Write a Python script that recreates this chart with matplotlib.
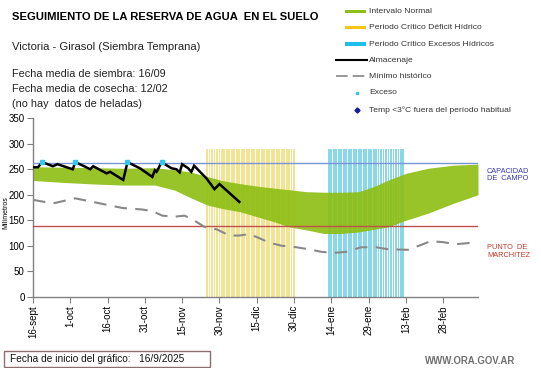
import numpy as np
import matplotlib
matplotlib.use("Agg")
import matplotlib.pyplot as plt
from matplotlib.lines import Line2D
from matplotlib.patches import Rectangle

plt.rcParams['font.family'] = ['Liberation Sans', 'DejaVu Sans']

# ---------------- data (x = days since 16-sept-2025) ----------------
tick_days = [0, 15, 30, 45, 60, 75, 90, 105, 120, 135, 150, 165]
tick_labels = ['16-sept', '1-oct', '16-oct', '31-oct', '15-nov', '30-nov',
               '15-dic', '30-dic', '14-ene', '29-ene', '13-feb', '28-feb']

band_days = [0, 13, 25, 36, 49, 57, 63, 70, 76, 83, 90, 97, 103, 110, 117,
             124, 131, 137, 143, 150, 159, 169, 179]
band_upper = [255, 254, 253, 252, 253, 249, 245, 236, 228, 222, 217, 213, 210,
              206, 205, 205, 206, 216, 229, 242, 252, 258, 260]
band_lower = [228, 224, 221, 219, 219, 209, 195, 180, 173, 167, 157, 147, 137,
              131, 124, 124, 127, 132, 137, 150, 164, 183, 200]

min_days = [0, 8, 17, 26, 36, 44, 48, 52, 57, 61, 64, 69, 74, 79, 83, 87, 91,
            95, 100, 106, 111, 116, 121, 126, 132, 138, 143, 151, 160, 165, 170, 177]
min_vals = [190, 183, 193, 184, 174, 171, 168, 159, 157, 159, 152, 137, 132, 120,
            120, 123, 115, 106, 100, 97, 93, 88, 86, 88, 97, 97, 93, 92, 109, 107,
            103, 106]

alm_days = [0, 2, 3.7, 8, 9.8, 16, 17, 21, 23, 24.2, 29.6, 31, 36.3, 38, 43, 48,
            49, 49.7, 50.5, 51.7, 55.7, 57.7, 59, 60, 62.4, 63.7, 64.8, 69.8, 73,
            75, 83]
alm_vals = [254, 254, 264, 256, 260, 250, 264, 255, 250, 256, 242, 245, 229, 264,
            252, 235, 248, 245, 252, 264, 252, 250, 244, 260, 252, 245, 257, 232,
            211, 221, 186]

exceso_days = [3.7, 17, 38, 51.7]
exceso_vals = [264, 264, 264, 264]

deficit_period = (70, 105)    # Periodo Crítico Déficit Hídrico (days)
excess_period = (119, 149)    # Periodo Crítico Excesos Hídricos (days)
period_bar_height = 290

capacidad_campo = 263
punto_marchitez = 138

# ---------------- figure ----------------
W, H = 541, 368
fig = plt.figure(figsize=(W / 100, H / 100), dpi=100)

def fx(x):
    return x / W

def fy(y):
    return 1 - y / H

ax = fig.add_axes([fx(33), fy(296.7), (478 - 33) / W, (296.7 - 118.3) / H])
ax.set_xlim(0, 179)
ax.set_ylim(0, 350)

def_days = np.arange(deficit_period[0], deficit_period[1] + 1)
exc_days = np.arange(excess_period[0], excess_period[1] + 1)
ax.bar(def_days, [period_bar_height] * len(def_days), width=0.75,
       color='#F3E494', linewidth=0, zorder=1)
ax.bar(exc_days, [period_bar_height] * len(exc_days), width=0.75,
       color='#88D8EA', linewidth=0, zorder=1)

ax.fill_between(band_days, band_lower, band_upper, color='#8DBE12',
                alpha=0.9, linewidth=0, zorder=2)

ax.axhline(capacidad_campo, color='#7A95D6', lw=1.0, zorder=3)
ax.axhline(punto_marchitez, color='#C0504D', lw=1.0, zorder=3)

ax.plot(min_days, min_vals, color='#888888', lw=1.5, dashes=(6, 4), zorder=4)
ax.plot(alm_days, alm_vals, color='black', lw=1.8, zorder=5,
        solid_joinstyle='miter')
ax.plot(exceso_days, exceso_vals, linestyle='none', marker='s', ms=2.6,
        color='#33C6EE', zorder=6)

ax.set_xticks(tick_days)
ax.set_xticklabels(tick_labels, rotation=90, fontsize=7)
ax.set_yticks(range(0, 351, 50))
ax.tick_params(axis='both', direction='out', length=4, color='#808080',
               labelsize=7, pad=2)
for s in ['top', 'right']:
    ax.spines[s].set_visible(False)
for s in ['left', 'bottom']:
    ax.spines[s].set_color('#808080')
    ax.spines[s].set_linewidth(1.0)

fig.text(fx(6), fy(213), 'Milímetros', rotation=90, fontsize=5,
         ha='center', va='center')

fig.text(fx(487), fy(175), 'CAPACIDAD\nDE  CAMPO', fontsize=5.3, color='#3838B0',
         ha='left', va='center', linespacing=1.1)
fig.text(fx(487), fy(251.5), 'PUNTO  DE\nMARCHITEZ', fontsize=5.3, color='#C0392B',
         ha='left', va='center', linespacing=1.1)

# ---------------- header texts ----------------
fig.text(fx(12), fy(16.5), 'SEGUIMIENTO DE LA RESERVA DE AGUA  EN EL SUELO',
         fontsize=8.1, fontweight='bold', ha='left', va='center')
fig.text(fx(12), fy(46.5), 'Victoria - Girasol (Siembra Temprana)',
         fontsize=8.1, ha='left', va='center', color='#222222')
fig.text(fx(12), fy(74), 'Fecha media de siembra: 16/09',
         fontsize=7.8, ha='left', va='center', color='#222222')
fig.text(fx(12), fy(89), 'Fecha media de cosecha: 12/02',
         fontsize=7.8, ha='left', va='center', color='#222222')
fig.text(fx(12), fy(104), '(no hay  datos de heladas)',
         fontsize=7.8, ha='left', va='center', color='#222222')

# ---------------- legend (manual) ----------------
leg_fs = 6.1
leg_col = '#333333'
items_y = [11.4, 27.6, 44, 60.4, 76, 93, 109.7]
patch_cols = ['#8DBE12', '#F5C518', '#1EC0EA']
leg_texts = ['Intervalo Normal', 'Periodo Crítico Déficit Hídrico',
             'Periodo Crítico Excesos Hídricos', 'Almacenaje', 'Mínimo histórico',
             'Exceso', 'Temp <3°C fuera del período habitual']
for i in range(3):
    fig.add_artist(Rectangle((fx(345), fy(items_y[i] + 1.6)), 21 / W, 3.2 / H,
                             transform=fig.transFigure, color=patch_cols[i], lw=0))
fig.add_artist(Line2D([fx(336), fx(367)], [fy(items_y[3])] * 2, color='black',
                      lw=1.5, transform=fig.transFigure))
fig.add_artist(Line2D([fx(336), fx(367)], [fy(items_y[4])] * 2, color='#888888',
                      lw=1.2, dashes=(7, 3), transform=fig.transFigure))
fig.add_artist(Line2D([fx(357)], [fy(items_y[5])], color='#33C6EE', marker='s',
                      ms=2, linestyle='none', transform=fig.transFigure))
fig.add_artist(Line2D([fx(357)], [fy(items_y[6])], color='#1A1A9E', marker='D',
                      ms=2.6, linestyle='none', transform=fig.transFigure))
for i, t in enumerate(leg_texts):
    fig.text(fx(369), fy(items_y[i]), t, fontsize=leg_fs, color=leg_col,
             ha='left', va='center')

# ---------------- footer ----------------
fig.add_artist(Rectangle((fx(3.5), fy(367)), (210 - 3.5) / W, (367 - 351) / H,
                         transform=fig.transFigure, fill=False,
                         edgecolor='#8C6E6E', lw=1.0))
fig.text(fx(9.5), fy(359), 'Fecha de inicio del gráfico:   16/9/2025',
         fontsize=7.3, ha='left', va='center', color='#111111')
fig.text(fx(515), fy(361), 'WWW.ORA.GOV.AR', fontsize=6.9, fontweight='bold',
         ha='right', va='center', color='#707070')

fig.savefig('out.png', dpi=100)
